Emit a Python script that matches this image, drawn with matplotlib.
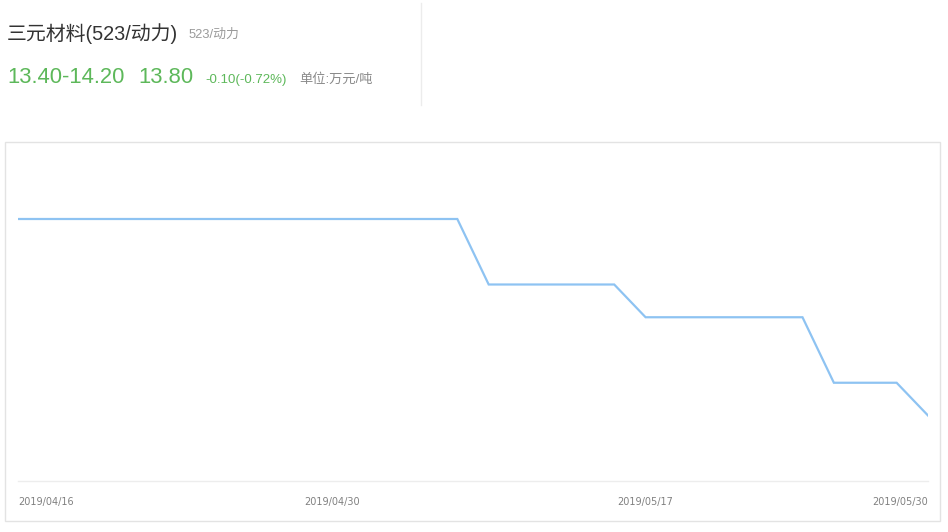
import matplotlib
matplotlib.use("Agg")
import matplotlib.pyplot as plt
from matplotlib.patches import Rectangle

# trading days shown on the chart
dates = ["2019/04/16", "2019/04/17", "2019/04/18", "2019/04/19", "2019/04/22",
         "2019/04/23", "2019/04/24", "2019/04/25", "2019/04/26", "2019/04/29",
         "2019/04/30", "2019/05/06", "2019/05/07", "2019/05/08", "2019/05/09",
         "2019/05/10", "2019/05/13", "2019/05/14", "2019/05/15", "2019/05/16",
         "2019/05/17", "2019/05/20", "2019/05/21", "2019/05/22", "2019/05/23",
         "2019/05/24", "2019/05/27", "2019/05/28", "2019/05/29", "2019/05/30"]
prices = [14.40, 14.40, 14.40, 14.40, 14.40, 14.40, 14.40, 14.40, 14.40, 14.40,
          14.40, 14.40, 14.40, 14.40, 14.40,
          14.20, 14.20, 14.20, 14.20, 14.20,
          14.10, 14.10, 14.10, 14.10, 14.10, 14.10,
          13.90, 13.90, 13.90,
          13.80]
tick_dates = ["2019/04/16", "2019/04/30", "2019/05/17", "2019/05/30"]

title = "三元材料(523/动力)"
subtitle = "523/动力"
price_range = "13.40-14.20"
last_price = "13.80"
change = "-0.10(-0.72%)"
unit = "单位:万元/吨"

fonts = ["Liberation Sans", "Noto Sans CJK SC", "DejaVu Sans"]
green = "#5db85a"

W, H = 948, 532
fig = plt.figure(figsize=(W / 100, H / 100), dpi=100)

# overlay in pixel coords for header, divider and panel box
bg = fig.add_axes([0, 0, 1, 1])
bg.set_xlim(0, W)
bg.set_ylim(H, 0)
bg.axis("off")

bg.plot([421, 421], [3, 105], color="#ececec", lw=1)
bg.add_patch(Rectangle((5, 142), 935, 379, facecolor="white", edgecolor="#e3e3e3", lw=1))

bg.text(7, 40, title, family=fonts, fontsize=14.3, color="#333333", va="baseline")
bg.text(189, 38, subtitle, family=fonts, fontsize=9.3, color="#9a9a9a", va="baseline")
bg.text(7, 83, price_range, family=fonts, fontsize=15.8, color=green, va="baseline")
bg.text(138, 83, last_price, family=fonts, fontsize=15.8, color=green, va="baseline")
bg.text(205, 83, change, family=fonts, fontsize=9.5, color=green, va="baseline")
bg.text(299, 83, unit, family=fonts, fontsize=9.5, color="#8a8a8a", va="baseline")

# main chart
x0, x1, ytop, ybot = 18, 928, 153.5, 481
ax = fig.add_axes([x0 / W, (H - ybot) / H, (x1 - x0) / W, (ybot - ytop) / H])
ax.patch.set_alpha(0)
ax.plot(dates, prices, color="#8ec3f2", lw=1.6, solid_joinstyle="miter")
ax.set_xlim(0, len(dates) - 1)
ax.set_ylim(13.6, 14.6)

for s in ["top", "left", "right"]:
    ax.spines[s].set_visible(False)
ax.spines["bottom"].set_color("#ededed")
ax.spines["bottom"].set_linewidth(1)
ax.set_yticks([])
ax.set_xticks(tick_dates)
ax.set_xticklabels(tick_dates, family="DejaVu Sans", fontsize=7, color="#808080")
ax.tick_params(axis="x", length=0, pad=11.5)
labels = ax.get_xticklabels()
labels[0].set_ha("left")
labels[-1].set_ha("right")

fig.savefig("out.png", dpi=100)
